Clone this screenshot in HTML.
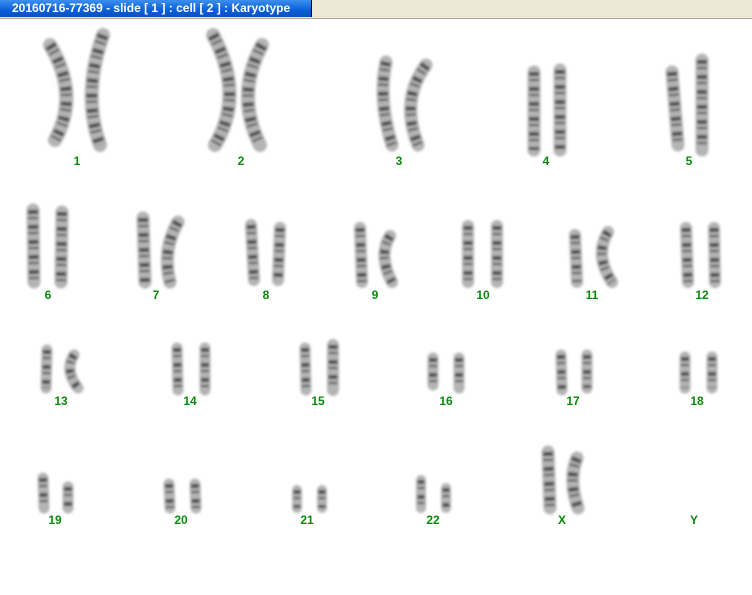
<!DOCTYPE html>
<html><head><meta charset="utf-8"><style>
html,body{margin:0;padding:0;width:752px;height:595px;overflow:hidden;background:#fff}
.bar{position:absolute;left:0;top:0;width:752px;height:18px;background:#ece9d8;border-bottom:1px solid #aca899}
.title{position:absolute;left:0;top:0;width:312px;height:17px;background:linear-gradient(#3d8ff0,#0a5fd8 60%,#0b4fc0);color:#fff;font:bold 12px "Liberation Sans",sans-serif;line-height:17px;padding-left:12px;box-sizing:border-box;border-right:1px solid #000}
svg{position:absolute;left:0;top:0}
text{font:bold 12px "Liberation Sans",sans-serif;fill:#0a8a0a;text-anchor:middle}
</style></head><body>
<div class="bar"></div><div class="title">20160716-77369 - slide [ 1 ] : cell [ 2 ] : Karyotype</div>
<svg width="752" height="595" viewBox="0 0 752 595">
<defs><filter id="b"><feGaussianBlur stdDeviation="1.2"/></filter></defs>
<g fill="none" stroke-linecap="round" filter="url(#b)" id="c">
</g>
<g id="lbl"></g>
</svg>
<script>
var ch=[
[14,"M50 45Q80 95 55 140"],[14,"M103 35Q82 95 100 145"],
[14,"M213 35Q245 95 215 145"],[14,"M262 45Q235 95 260 145"],
[13,"M386 62Q378 100 392 145"],[13,"M426 65Q400 100 418 145"],
[13,"M534 72L534 150"],[13,"M560 70L560 150"],
[13,"M672 72L678 145"],[13,"M702 60L702 150"],
[13,"M33 210L34 282"],[13,"M62 212L61 282"],
[13,"M143 218L145 282"],[13,"M178 222Q162 250 170 282"],
[12,"M251 225L254 280"],[12,"M280 228L278 280"],
[12,"M360 228L362 282"],[12,"M390 236Q378 255 392 282"],
[12,"M468 226L468 282"],[12,"M497 226L497 282"],
[12,"M575 235L577 282"],[12,"M608 232Q594 255 612 282"],
[12,"M686 228L688 282"],[12,"M714 228L715 282"],
[11,"M47 350L46 388"],[11,"M74 355Q64 370 78 388"],
[11,"M177 348L178 390"],[11,"M205 348L205 390"],
[11,"M305 348L306 390"],[12,"M333 345L333 390"],
[11,"M433 358L433 385"],[11,"M459 358L459 388"],
[11,"M561 355L562 390"],[11,"M587 355L587 388"],
[11,"M685 357L685 388"],[11,"M712 357L712 388"],
[11,"M43 478L44 508"],[11,"M68 487L68 508"],
[11,"M169 484L170 508"],[11,"M195 484L196 508"],
[10,"M297 490L297 508"],[10,"M322 490L322 508"],
[10,"M421 480L421 508"],[10,"M446 488L446 508"],
[13,"M548 452L550 508"],[13,"M577 458Q568 480 578 508"]];
var g=document.getElementById('c'),h='';
ch.forEach(function(c){h+='<path d="'+c[1]+'" stroke="#b4b4b4" stroke-width="'+c[0]+'"/>'+
'<path d="'+c[1]+'" stroke="#4a4a4a" stroke-width="'+(c[0]-3)+'" stroke-dasharray="4 3 2 6" stroke-linecap="butt"/>';});
g.innerHTML=h;
var L=[["1",77,165],["2",241,165],["3",399,165],["4",546,165],["5",689,165],
["6",48,299],["7",156,299],["8",266,299],["9",375,299],["10",483,299],["11",592,299],["12",702,299],
["13",61,405],["14",190,405],["15",318,405],["16",446,405],["17",573,405],["18",697,405],
["19",55,524],["20",181,524],["21",307,524],["22",433,524],["X",562,524],["Y",694,524]];
var s='';L.forEach(function(l){s+='<text x="'+l[1]+'" y="'+l[2]+'">'+l[0]+'</text>';});
document.getElementById('lbl').innerHTML=s;
</script>
</body></html>
